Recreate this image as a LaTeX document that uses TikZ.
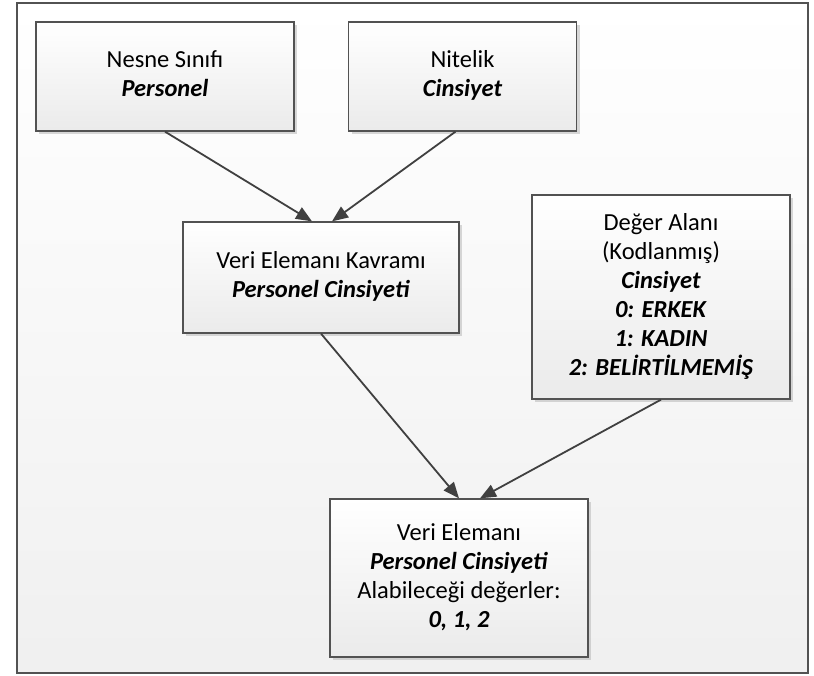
\documentclass[tikz,border=0pt]{standalone}
\usepackage{fontspec}
\setmainfont{Carlito}
\usetikzlibrary{arrows.meta,shadows}
\begin{document}
\begin{tikzpicture}[x=1pt,y=1pt,
  box/.style={draw=black!68, line width=1.3pt, top color=white, bottom color=black!8,
    align=center, inner sep=0pt, font=\fontsize{24.5}{29}\selectfont,
    drop shadow={shadow xshift=3pt, shadow yshift=-3pt, fill=black!30, opacity=0.5}},
  conn/.style={draw=black!75, line width=1.8pt, -{Triangle[length=16pt,width=13pt]}}]
\useasboundingbox (0,0) rectangle (814,675);
\shade[top color=white, bottom color=black!6] (17,672) rectangle (808,2);
\draw[black!68, line width=1.5pt] (17,672) rectangle (808,2);
\node[box, minimum width=258pt, minimum height=109pt] (n1) at (165,598.5)
  {\strut Nesne Sınıfı\\\textbf{\textit{Personel}}\strut};
\node[box, minimum width=228pt, minimum height=109pt] (n2) at (462.5,598.5)
  {\strut Nitelik\\\textbf{\textit{Cinsiyet}}\strut};
\node[box, minimum width=276pt, minimum height=111pt] (n3) at (321,397.5)
  {\strut Veri Elemanı Kavramı\\\textbf{\textit{Personel Cinsiyeti}}\strut};
\node[box, minimum width=258pt, minimum height=204pt] (n4) at (661,378)
  {\strut Değer Alanı\\(Kodlanmış)\\\textbf{\textit{Cinsiyet}}\\\textbf{\textit{0: ERKEK}}\\\textbf{\textit{1: KADIN}}\\\textbf{\textit{2: BELİRTİLMEMİŞ}}\strut};
\node[box, minimum width=258pt, minimum height=158pt] (n5) at (459,97)
  {\strut Veri Elemanı\\\textbf{\textit{Personel Cinsiyeti}}\\Alabileceği değerler:\\\textbf{\textit{0, 1, 2}}\strut};
\draw[conn] (n1.south) -- ([xshift=-9pt]n3.north);
\draw[conn] ([xshift=-7pt]n2.south) -- ([xshift=11pt]n3.north);
\draw[conn] (n3.south) -- (n5.north);
\draw[conn] (n4.south) -- ([xshift=21pt]n5.north);
\end{tikzpicture}
\end{document}
